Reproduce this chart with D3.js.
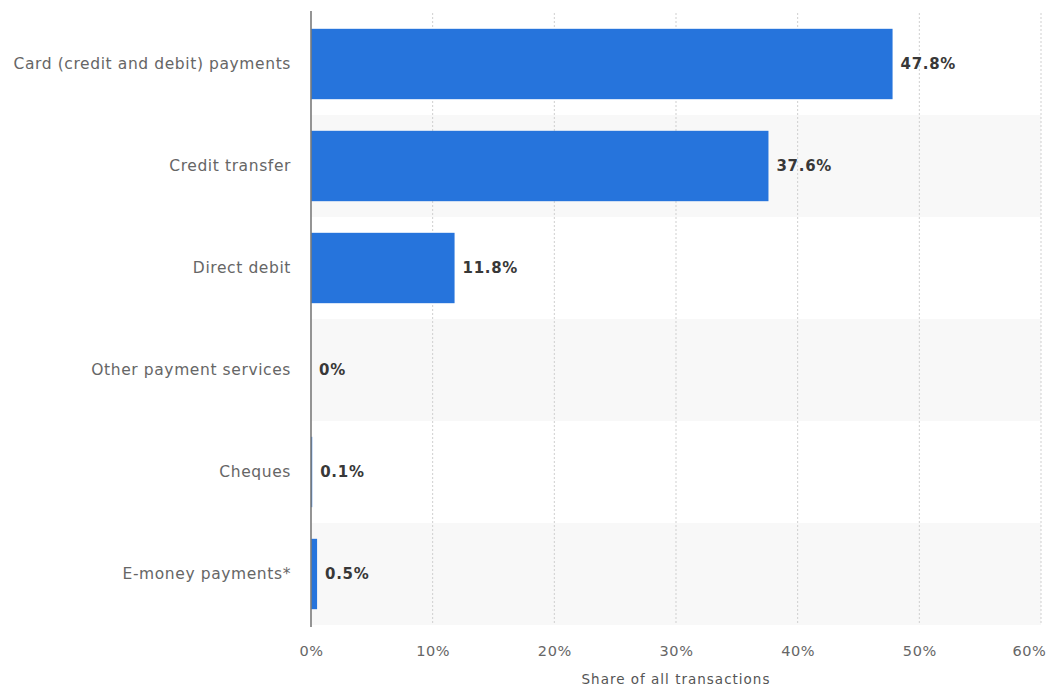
<!DOCTYPE html>
<html>
<head>
<meta charset="utf-8">
<script src="https://cdn.jsdelivr.net/npm/d3@7"></script>
<style>
  html, body { margin: 0; padding: 0; background: #fff; }
  svg { display: block; }
</style>
</head>
<body>
<svg id="chart" width="1048" height="689"></svg>
<script>
// Share of transactions by payment method
const categories = [
  "Card (credit and debit) payments",
  "Credit transfer",
  "Direct debit",
  "Other payment services",
  "Cheques",
  "E-money payments*"
];
const values = [47.8, 37.6, 11.8, 0, 0.1, 0.5];
const tickValues = [0, 10, 20, 30, 40, 50, 60];
const axisTitle = "Share of all transactions";

const svg = d3.select("#chart");
const margin = { top: 13, right: 7, bottom: 64, left: 311 };
const W = 1048, H = 689;
const innerW = W - margin.left - margin.right;
const innerH = H - margin.top - margin.bottom;
const FONT = "DejaVu Sans, Verdana, sans-serif";

const g = svg.append("g").attr("transform", `translate(${margin.left},${margin.top})`);

const x = d3.scaleLinear().domain([0, 60]).range([0, innerW]);
const y = d3.scaleBand().domain(categories).range([0, innerH]).paddingInner(0.31).paddingOuter(0.155);
const rows = d3.scaleBand().domain(categories).range([0, innerH]).padding(0);

// alternating row shading
g.selectAll("rect.row")
  .data(categories)
  .join("rect")
  .attr("class", "row")
  .attr("x", 0)
  .attr("width", innerW)
  .attr("y", d => rows(d))
  .attr("height", rows.bandwidth())
  .attr("fill", (d, i) => i % 2 ? "#f8f8f8" : "#ffffff");

// vertical dotted grid
g.selectAll("line.grid")
  .data(tickValues.slice(1))
  .join("line")
  .attr("class", "grid")
  .attr("x1", d => x(d)).attr("x2", d => x(d))
  .attr("y1", 0).attr("y2", innerH)
  .attr("stroke", "#cfcfcf")
  .attr("stroke-width", 1)
  .attr("stroke-dasharray", "2,2");

// bars
g.selectAll("rect.bar")
  .data(categories)
  .join("rect")
  .attr("class", "bar")
  .attr("x", 0)
  .attr("y", d => y(d))
  .attr("width", (d, i) => x(values[i]))
  .attr("height", y.bandwidth())
  .attr("fill", "#2674dc");

// value labels
g.selectAll("text.val")
  .data(categories)
  .join("text")
  .attr("class", "val")
  .attr("x", (d, i) => x(values[i]) + 8)
  .attr("y", d => y(d) + y.bandwidth() / 2)
  .attr("dy", "0.35em")
  .attr("font-family", FONT)
  .attr("font-size", 15)
  .attr("letter-spacing", 0.7)
  .attr("font-weight", "bold")
  .attr("fill", "#383838")
  .text((d, i) => values[i] + "%");

// category axis
const yAxis = g.append("g").call(d3.axisLeft(rows).tickSize(0).tickPadding(20));
yAxis.select(".domain").remove();
yAxis.selectAll("text")
  .attr("font-family", FONT)
  .attr("font-size", 15.5)
  .attr("letter-spacing", 0.6)
  .attr("fill", "#666");

// baseline
g.append("line")
  .attr("x1", 0).attr("x2", 0)
  .attr("y1", -2).attr("y2", innerH + 2)
  .attr("stroke", "#7a7a7a")
  .attr("stroke-width", 1.6);

// value axis
const xAxis = g.append("g")
  .attr("transform", `translate(0,${innerH})`)
  .call(d3.axisBottom(x).tickValues(tickValues).tickFormat(d => d + "%").tickSize(0).tickPadding(21));
xAxis.select(".domain").remove();
xAxis.selectAll("text")
  .attr("font-family", FONT)
  .attr("font-size", 14.5)
  .attr("letter-spacing", 0.6)
  .attr("fill", "#666");
// keep the last tick label inside the frame
xAxis.selectAll(".tick")
  .filter(d => d === tickValues[tickValues.length - 1])
  .select("text")
  .attr("text-anchor", "end")
  .attr("dx", 5);

svg.append("text")
  .attr("x", margin.left + innerW / 2)
  .attr("y", H - 5)
  .attr("text-anchor", "middle")
  .attr("font-family", FONT)
  .attr("font-size", 13.5)
  .attr("letter-spacing", 1)
  .attr("fill", "#555")
  .text(axisTitle);
</script>
</body>
</html>
